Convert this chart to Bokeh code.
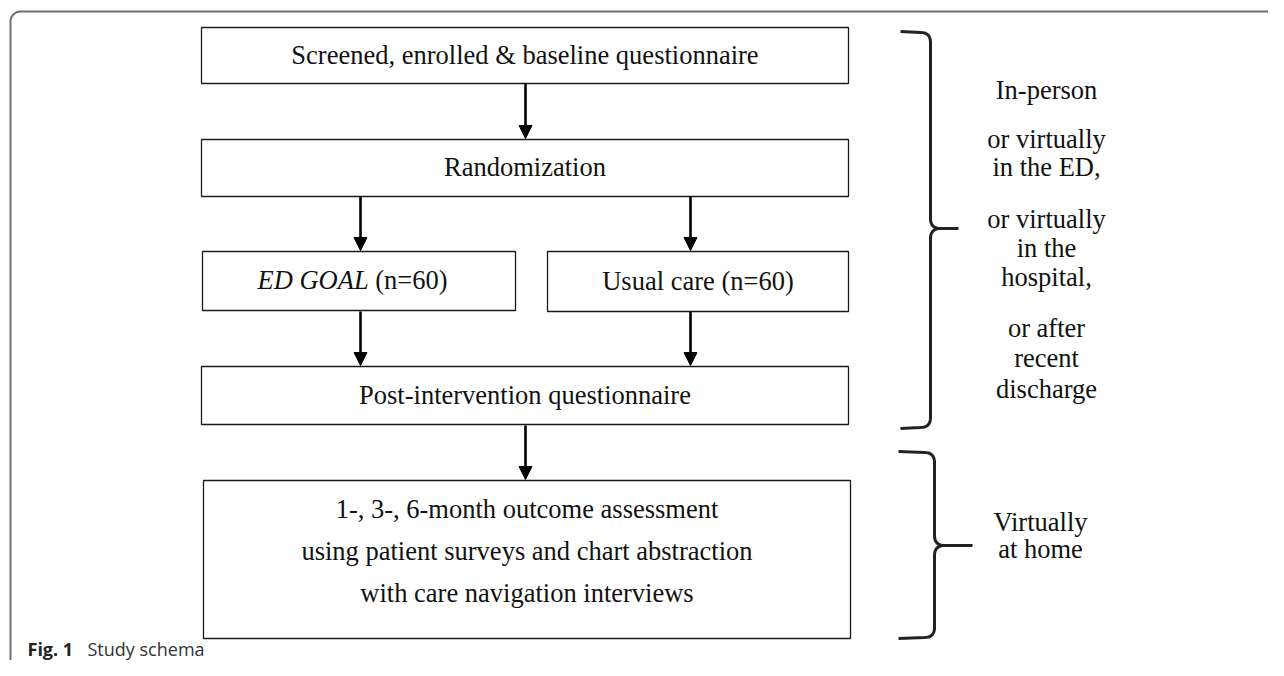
import numpy as np
from bokeh.plotting import figure
from bokeh.models import Range1d, Arrow, NormalHead, ColumnDataSource
from bokeh.core.properties import value
from bokeh.embed import file_html
from bokeh.resources import INLINE

# ---------------- data (texts of the schema) ----------------
box_names = ["screen", "random", "edgoal", "usual", "post", "outcome"]
box_texts = ["Screened, enrolled & baseline questionnaire", "Randomization", "",
             "Usual care (n=60)", "Post-intervention questionnaire", ""]
edgoal_italic = "ED GOAL"
edgoal_rest = "(n=60)"
outcome_lines = ["1-, 3-, 6-month outcome assessment",
                 "using patient surveys and chart abstraction",
                 "with care navigation interviews"]
setting1_lines = ["In-person", "or virtually", "in the ED,", "or virtually", "in the",
                  "hospital,", "or after", "recent", "discharge"]
setting2_lines = ["Virtually", "at home"]
caption_bold = "Fig. 1"
caption_text = "Study schema"

# ---------------- layout (pixel space) ----------------
boxes = {
    "screen":  (201, 848, 27, 83),
    "random":  (201, 848, 139, 196),
    "edgoal":  (202, 515, 251, 310),
    "usual":   (547, 848, 251, 311),
    "post":    (201, 848, 366, 424),
    "outcome": (203, 850, 480, 638),
}
arrows = [(525, 83, 138), (360, 196, 250), (690, 196, 250),
          (360, 311, 365), (690, 311, 365), (525, 425, 479)]

FONT = value("Liberation Serif")
FSN = 26.5
FS = f"{FSN}px"
W, H = 1268, 660

p = figure(width=W, height=H, x_range=Range1d(0, W), y_range=Range1d(H, 0),
           output_backend="svg", toolbar_location=None, min_border=0,
           background_fill_color="white", border_fill_color="white")
p.outline_line_color = None
p.xaxis.visible = False
p.yaxis.visible = False
p.grid.visible = False

# outer frame with rounded top-left corner
r = 10
t = np.linspace(np.pi, 1.5 * np.pi, 12)
fx = [10] + list(10 + r + r * np.cos(t)) + [W + 10]
fy = [H + 10] + list(11 + r + r * np.sin(t)) + [11]
p.line(fx, fy, line_color="#6f6f6f", line_width=2)

# boxes
lefts = [boxes[n][0] for n in box_names]
rights = [boxes[n][1] for n in box_names]
tops = [boxes[n][2] for n in box_names]
bottoms = [boxes[n][3] for n in box_names]
p.quad(left=lefts, right=rights, top=tops, bottom=bottoms, fill_color="white",
       line_color="#1a1a1a", line_width=1.3)

# single-line box texts
cx, cy, tx = [], [], []
for n, s in zip(box_names, box_texts):
    if s:
        cx.append((boxes[n][0] + boxes[n][1]) / 2)
        cy.append((boxes[n][2] + boxes[n][3]) / 2 - 1)
        tx.append(s)
p.text(x=cx, y=cy, text=tx, text_font=FONT, text_font_size=FS, text_align="center",
       text_baseline="middle", text_color="#111111")

# ED GOAL (italic) + (n=60)
eb = boxes["edgoal"]
ecy = (eb[2] + eb[3]) / 2 - 1
p.text(x=[257], y=[ecy], text=[edgoal_italic], text_font=FONT, text_font_size=FS,
       text_font_style="italic", text_align="left", text_baseline="middle", text_color="#111111")
p.text(x=[257 + (4.194 + 0.25) * FSN], y=[ecy], text=[edgoal_rest], text_font=FONT,
       text_font_size=FS, text_align="left", text_baseline="middle", text_color="#111111")

# outcome box three lines
ob = boxes["outcome"]
p.text(x=[(ob[0] + ob[1]) / 2] * 3, y=[508, 550, 592], text=outcome_lines, text_font=FONT,
       text_font_size=FS, text_align="center", text_baseline="middle", text_color="#111111")

# arrows
asrc = ColumnDataSource(dict(x0=[a[0] for a in arrows], y0=[a[1] for a in arrows],
                             x1=[a[0] for a in arrows], y1=[a[2] for a in arrows]))
p.add_layout(Arrow(end=NormalHead(size=13, fill_color="black", line_color="black", line_width=1),
                   x_start="x0", y_start="y0", x_end="x1", y_end="y1", source=asrc,
                   line_width=2.6, line_color="black"))

# braces
def brace(xl, xm, xt, yt, ytip, yb, rr=10, n=10):
    s = np.linspace(0, 1, n)
    def quad(p0, c, p1):
        return ((1 - s) ** 2 * p0[0] + 2 * (1 - s) * s * c[0] + s ** 2 * p1[0],
                (1 - s) ** 2 * p0[1] + 2 * (1 - s) * s * c[1] + s ** 2 * p1[1])
    a = quad((xm - rr, yt), (xm, yt), (xm, yt + rr))
    b = quad((xm, ytip - rr), (xm, ytip), (xm + rr, ytip))
    up_x = [xl] + list(a[0]) + list(b[0]) + [xt]
    up_y = [yt - 1] + list(a[1]) + list(b[1]) + [ytip]
    c = quad((xm + rr, ytip), (xm, ytip), (xm, ytip + rr))
    d = quad((xm, yb - rr), (xm, yb), (xm - rr, yb))
    lo_x = list(c[0]) + list(d[0]) + [xl]
    lo_y = list(c[1]) + list(d[1]) + [yb + 1]
    return [up_x, lo_x], [up_y, lo_y]

bx1, by1 = brace(900, 930, 958, 32, 228, 427)
bx2, by2 = brace(898, 934, 972, 452, 545, 637)
p.multi_line(bx1 + bx2, by1 + by2, line_color="#222222", line_width=3)

# right-hand setting texts
s1_y = [89, 138, 166, 218, 247, 276, 327, 357, 388]
p.text(x=[1046] * len(setting1_lines), y=s1_y, text=setting1_lines, text_font=FONT,
       text_font_size=FS, text_align="center", text_baseline="middle", text_color="#111111")
p.text(x=[1040] * 2, y=[521, 548], text=setting2_lines, text_font=FONT,
       text_font_size=FS, text_align="center", text_baseline="middle", text_color="#111111")

# caption
p.text(x=[27], y=[648], text=[caption_bold], text_font=value("Open Sans"), text_font_size="18px",
       text_font_style="bold", text_align="left", text_baseline="middle", text_color="#222222")
p.text(x=[87], y=[648], text=[caption_text], text_font=value("Open Sans"), text_font_size="18px",
       text_align="left", text_baseline="middle", text_color="#333333")

open("out.html", "w").write(file_html(p, INLINE))
